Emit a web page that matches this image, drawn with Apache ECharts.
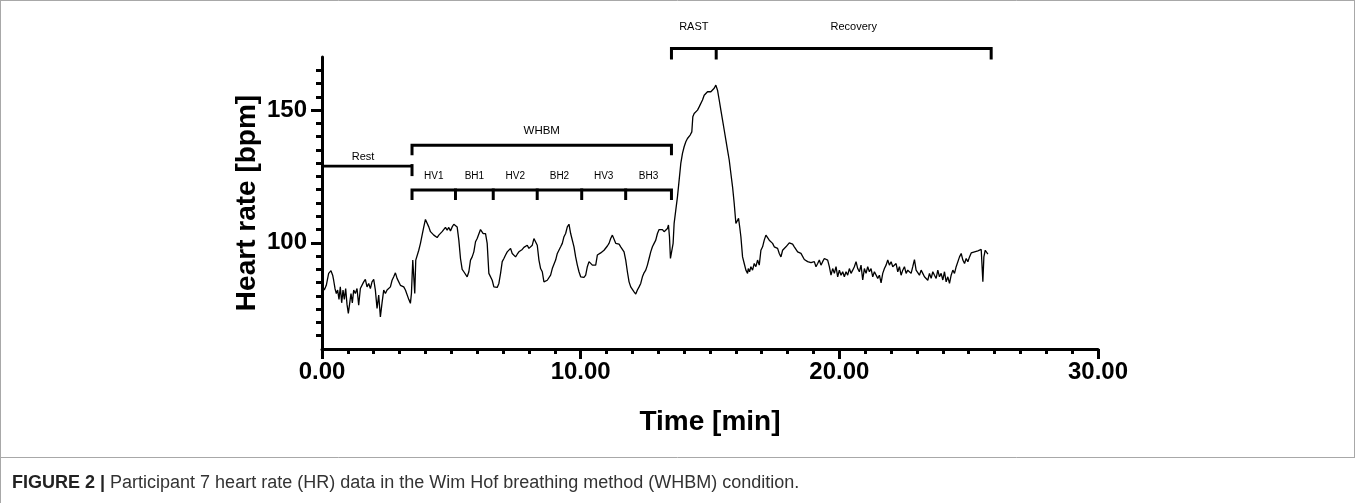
<!DOCTYPE html>
<html>
<head>
<meta charset="utf-8">
<script src="https://cdn.jsdelivr.net/npm/echarts@6/dist/echarts.min.js"></script>
<style>
html,body{margin:0;padding:0;background:#fff;}
#chart{width:1355px;height:503px;}
</style>
</head>
<body>
<div id="chart"></div>
<script>
// ---- data: [time (min), heart rate (bpm)] ----
const restData = [[0.037,83.4],[0.089,82.2],[0.166,84.0],[0.257,88.5],[0.347,89.5],[0.412,87.8],[0.450,85.9],[0.502,82.8],[0.554,80.9],[0.605,82.2],[0.657,78.7],[0.708,83.4],[0.760,77.4],[0.812,82.2],[0.863,78.7],[0.915,82.8],[0.967,76.8],[1.018,73.4],[1.070,77.2],[1.121,80.9],[1.173,77.4],[1.225,82.2],[1.289,80.9],[1.354,82.8],[1.418,76.5],[1.483,82.8],[1.547,83.4],[1.612,85.3],[1.676,86.2],[1.741,83.4],[1.805,84.7],[1.870,82.8],[1.934,85.3],[1.999,86.2],[2.063,82.2],[2.128,75.3],[2.192,80.3],[2.257,72.1],[2.321,77.4],[2.386,82.2],[2.451,80.9],[2.515,82.2],[2.580,82.8],[2.644,83.4],[2.709,85.9],[2.773,87.2],[2.838,88.7],[2.902,86.6],[2.967,87.0],[3.031,84.0],[3.096,84.7],[3.160,83.4],[3.225,82.2],[3.289,82.8],[3.354,78.7],[3.418,77.2],[3.457,80.9]];
const whbmData = [[3.509,93.5],[3.548,94.1],[3.586,80.9],[3.625,93.5],[3.677,94.1],[3.741,97.2],[3.806,99.8],[3.870,102.9],[3.935,106.0],[3.999,108.8],[4.064,109.2],[4.128,106.0],[4.193,104.2],[4.257,104.2],[4.322,102.9],[4.386,102.9],[4.451,102.0],[4.515,102.9],[4.580,102.9],[4.644,104.2],[4.709,103.8],[4.773,105.8],[4.838,104.8],[4.902,105.8],[4.967,104.5],[5.032,106.0],[5.096,107.0],[5.161,107.3],[5.225,106.0],[5.290,101.0],[5.354,94.1],[5.419,90.0],[5.483,89.1],[5.548,89.7],[5.612,87.2],[5.677,89.1],[5.741,93.5],[5.806,94.7],[5.870,96.6],[5.935,100.4],[5.999,101.6],[6.064,102.3],[6.128,105.0],[6.193,105.4],[6.232,103.5],[6.322,103.5],[6.386,99.8],[6.451,88.5],[6.516,87.8],[6.580,85.9],[6.645,83.4],[6.709,82.8],[6.774,83.2],[6.838,84.7],[6.903,88.5],[6.967,92.9],[7.032,94.1],[7.096,95.4],[7.161,96.6],[7.225,97.2],[7.290,97.9],[7.354,96.0],[7.419,95.4],[7.483,94.7],[7.548,95.7],[7.612,96.6],[7.677,97.2],[7.742,97.5],[7.806,98.3],[7.871,98.5],[7.935,99.1],[8.000,97.9],[8.064,98.5],[8.129,99.1],[8.193,101.6],[8.258,102.3],[8.322,99.1],[8.387,93.5],[8.451,90.3],[8.516,89.1],[8.580,85.3],[8.645,85.3],[8.709,85.9],[8.774,86.2],[8.838,87.8],[8.903,90.3],[8.968,91.0],[9.032,93.5],[9.097,96.0],[9.161,96.6],[9.226,98.5],[9.290,99.8],[9.355,102.3],[9.419,103.5],[9.484,106.0],[9.548,107.0],[9.613,103.5],[9.677,102.9],[9.742,98.5],[9.806,94.7],[9.871,91.6],[9.935,89.1],[10.000,87.2],[10.065,86.6],[10.129,87.0],[10.194,87.8],[10.258,91.0],[10.323,92.9],[10.387,93.2],[10.452,91.6],[10.516,91.0],[10.581,91.6],[10.645,95.4],[10.710,96.0],[10.774,96.2],[10.839,96.6],[10.903,97.2],[10.968,97.9],[11.032,98.8],[11.097,99.8],[11.161,101.6],[11.226,102.9],[11.290,102.3],[11.355,99.8],[11.419,99.1],[11.484,99.5],[11.548,98.5],[11.613,97.9],[11.677,96.6],[11.742,93.5],[11.806,89.1],[11.871,85.3],[11.935,83.4],[12.000,82.8],[12.064,81.5],[12.129,80.7],[12.193,82.2],[12.258,83.4],[12.322,84.7],[12.387,87.2],[12.451,88.7],[12.516,89.7],[12.580,91.6],[12.645,94.1],[12.709,96.6],[12.774,98.5],[12.839,99.8],[12.903,101.0],[12.968,103.5],[13.032,105.0],[13.097,105.4],[13.161,105.0],[13.226,104.2],[13.290,103.8],[13.355,105.4],[13.394,106.7],[13.433,102.3],[13.471,94.1],[13.536,93.5],[13.574,99.8]];
const rastData = [[13.613,107.3],[13.677,112.3],[13.742,117.3],[13.807,123.6],[13.871,129.9],[13.936,133.7],[14.000,136.2],[14.065,138.1],[14.129,139.3],[14.233,140.6],[14.297,141.8],[14.336,147.5],[14.388,148.7],[14.452,149.4],[14.517,150.0],[14.581,151.2],[14.646,151.9],[14.710,153.8],[14.775,155.6],[14.839,156.3],[14.904,156.9],[15.033,156.9],[15.097,157.5],[15.162,158.2],[15.226,159.4]];
const recoveryData = [[15.291,157.5],[15.356,153.8],[15.420,150.0],[15.485,146.2],[15.549,142.5],[15.614,138.7],[15.678,134.9],[15.743,131.2],[15.807,126.1],[15.872,121.1],[15.936,114.8],[16.001,107.3],[16.065,107.3],[16.104,109.2],[16.156,105.4],[16.194,102.3],[16.259,94.7],[16.323,92.2],[16.388,89.7],[16.452,88.5],[16.478,90.3],[16.529,89.1],[16.581,91.0],[16.645,89.7],[16.710,92.2],[16.774,91.0],[16.839,93.5],[16.904,91.6],[16.968,97.2],[17.033,98.5],[17.097,101.0],[17.162,102.9],[17.226,102.3],[17.291,101.0],[17.355,100.4],[17.420,99.8],[17.484,98.5],[17.549,99.1],[17.613,97.9],[17.678,96.0],[17.743,94.7],[17.807,97.2],[17.872,96.6],[17.936,98.5],[18.001,99.1],[18.065,100.0],[18.130,99.8],[18.194,99.5],[18.259,98.5],[18.323,97.9],[18.388,96.6],[18.452,97.2],[18.517,96.0],[18.581,95.4],[18.646,93.7],[18.710,94.1],[18.775,92.9],[18.839,93.5],[18.904,92.5],[18.968,92.2],[19.033,92.9],[19.097,91.0],[19.162,92.2],[19.226,93.5],[19.291,91.6],[19.355,92.9],[19.420,94.1],[19.485,94.7],[19.549,93.5],[19.614,91.0],[19.678,87.8],[19.743,90.3],[19.807,88.5],[19.872,91.0],[19.936,87.2],[20.001,89.7],[20.065,87.8],[20.130,89.1],[20.194,87.2],[20.259,89.1],[20.323,87.8],[20.388,90.3],[20.452,88.5],[20.517,89.7],[20.581,91.0],[20.646,92.9],[20.710,90.3],[20.775,89.1],[20.839,91.6],[20.904,86.0],[20.968,90.3],[21.033,88.5],[21.097,91.0],[21.162,89.1],[21.226,90.3],[21.291,87.2],[21.356,89.1],[21.420,88.5],[21.485,86.6],[21.549,87.8],[21.614,84.9],[21.678,88.5],[21.743,90.3],[21.807,91.6],[21.872,93.5],[21.936,91.6],[22.001,92.9],[22.065,91.0],[22.130,90.3],[22.194,92.2],[22.259,89.1],[22.323,91.0],[22.388,87.8],[22.452,89.7],[22.517,91.0],[22.581,88.5],[22.646,89.7],[22.710,90.3],[22.775,88.5],[22.839,91.0],[22.904,93.7],[22.968,89.7],[23.033,89.1],[23.097,87.8],[23.162,89.7],[23.226,88.5],[23.291,87.2],[23.356,87.8],[23.420,85.9],[23.485,88.5],[23.549,86.6],[23.614,89.1],[23.678,87.8],[23.743,86.6],[23.807,89.7],[23.872,87.2],[23.936,88.5],[24.001,86.0],[24.065,89.1],[24.130,85.3],[24.194,87.2],[24.259,84.7],[24.323,87.8],[24.388,89.7],[24.452,88.5],[24.517,91.0],[24.582,91.6],[24.646,94.7],[24.711,96.0],[24.775,93.5],[24.840,92.2],[24.904,94.1],[24.969,92.9],[25.033,94.7],[25.098,96.2],[25.162,96.0],[25.227,96.6],[25.291,96.2],[25.356,97.0],[25.420,96.6],[25.485,97.5],[25.511,97.9],[25.549,85.3],[25.588,94.7],[25.640,97.2],[25.691,97.5],[25.743,95.7]];

// ---- phase annotations (time in min) ----
const restSpan = [0, 3.48];
const whbmSpan = [3.48, 13.51];
const whbmPhaseBounds = [3.48, 5.16, 6.62, 8.32, 10.04, 11.74, 13.51];
const whbmPhaseLabels = ['HV1', 'BH1', 'HV2', 'BH2', 'HV3', 'BH3'];
const exerciseBounds = [13.51, 15.24, 25.87];
const exerciseLabels = ['RAST', 'Recovery'];

// ---- axis ticks ----
const xTickLabels = [0, 10, 20, 30];
const yMajorTicks = [100, 150];
const yMinorTicks = [65,70,75,80,85,90,95,105,110,115,120,125,130,135,140,145,155,160,165];

const FONT = '"Liberation Sans", Arial, Helvetica, sans-serif';
const hrSeries = restData.concat(whbmData, rastData, recoveryData);

function renderBrackets(params, api) {
  const P = (t, v) => api.coord([t, v]);
  const kids = [];
  const stroke = {stroke: '#000', lineWidth: 3, fill: null, lineJoin: 'miter', lineCap: 'butt'};
  const poly = (pts, w) => kids.push({type: 'polyline', shape: {points: pts}, style: Object.assign({}, stroke, {lineWidth: w || 3})});
  const txt = (x, y, s, size) => kids.push({type: 'text', style: {x: x, y: y, text: s, font: size + 'px ' + FONT, fill: '#000', align: 'center', verticalAlign: 'middle'}});

  // RAST / Recovery bracket
  const yE = P(0, 173.2)[1];
  const xs = exerciseBounds.map(t => P(t, 0)[0]);
  poly([[xs[0], yE + 11], [xs[0], yE], [xs[xs.length - 1], yE], [xs[xs.length - 1], yE + 11]]);
  for (let i = 1; i < xs.length - 1; i++) poly([[xs[i], yE - 1.5], [xs[i], yE + 11]]);
  const yEL = P(0, 181.3)[1];
  exerciseLabels.forEach((s, i) => txt((xs[i] + xs[i + 1]) / 2, yEL, s, 11));

  // WHBM bracket
  const yW = P(0, 136.8)[1];
  const xw0 = P(whbmSpan[0], 0)[0], xw1 = P(whbmSpan[1], 0)[0];
  poly([[xw0, yW + 10], [xw0, yW], [xw1, yW], [xw1, yW + 10]]);
  txt((xw0 + xw1) / 2, P(0, 142.1)[1], 'WHBM', 11.5);

  // Rest line
  const yR = P(0, 128.9)[1];
  const xr0 = P(restSpan[0], 0)[0], xr1 = P(restSpan[1], 0)[0];
  poly([[xr0, yR], [xr1, yR]], 2.6);
  poly([[xr1, yR - 2], [xr1, yR + 10]], 3);
  txt((xr0 + xr1) / 2 - 4, P(0, 132.3)[1], 'Rest', 11);

  // WHBM sub-phase bracket
  const yS = P(0, 119.9)[1];
  const xb = whbmPhaseBounds.map(t => P(t, 0)[0]);
  poly([[xb[0], yS + 10], [xb[0], yS], [xb[xb.length - 1], yS], [xb[xb.length - 1], yS + 10]]);
  for (let i = 1; i < xb.length - 1; i++) poly([[xb[i], yS - 1.5], [xb[i], yS + 10]]);
  const ySL = P(0, 125.1)[1];
  whbmPhaseLabels.forEach((s, i) => txt((xb[i] + xb[i + 1]) / 2, ySL, s, 10));

  return {type: 'group', children: kids};
}

const chart = echarts.init(document.getElementById('chart'), null, {renderer: 'canvas'});
chart.setOption({
  animation: false,
  backgroundColor: '#fff',
  grid: {left: 322, top: 57, width: 776, height: 292, containLabel: false},
  xAxis: {
    type: 'value', min: 0, max: 30, interval: 10,
    name: 'Time [min]', nameLocation: 'middle', nameGap: 59,
    nameTextStyle: {fontFamily: FONT, fontWeight: 'bold', fontSize: 28, color: '#000'},
    axisLine: {onZero: false, lineStyle: {color: '#000', width: 3}},
    axisTick: {length: 10, lineStyle: {color: '#000', width: 3}},
    minorTick: {show: true, splitNumber: 10, length: 5, lineStyle: {color: '#000', width: 3}},
    splitLine: {show: false},
    axisLabel: {
      customValues: xTickLabels,
      margin: 11, fontFamily: FONT, fontWeight: 'bold', fontSize: 24, color: '#000',
      formatter: v => v.toFixed(2)
    }
  },
  yAxis: [{
    type: 'value', min: 60, max: 170,
    name: 'Heart rate [bpm]', nameLocation: 'middle', nameGap: 61, nameMoveOverlap: false,
    nameTextStyle: {fontFamily: FONT, fontWeight: 'bold', fontSize: 28, color: '#000'},
    axisLine: {show: true, onZero: false, lineStyle: {color: '#000', width: 3}},
    axisTick: {show: true, customValues: yMajorTicks, length: 11, lineStyle: {color: '#000', width: 3}},
    axisLabel: {customValues: yMajorTicks, margin: 15, fontFamily: FONT, fontWeight: 'bold', fontSize: 24, color: '#000'},
    splitLine: {show: false}
  }, {
    type: 'value', min: 60, max: 170, position: 'left', offset: 0,
    axisLine: {show: false},
    axisTick: {show: true, customValues: yMinorTicks, length: 6, lineStyle: {color: '#000', width: 3}},
    axisLabel: {show: false},
    splitLine: {show: false}
  }],
  series: [{
    type: 'line', data: hrSeries, showSymbol: false, symbol: 'none',
    lineStyle: {color: '#000', width: 1.3}, z: 3
  }, {
    type: 'custom', data: [[0, 100]], renderItem: renderBrackets, clip: false, silent: true, z: 4
  }],
  graphic: [
    {type: 'line', shape: {x1: 0.5, y1: 0, x2: 0.5, y2: 503}, style: {stroke: '#a8a8a8', lineWidth: 1}},
    {type: 'line', shape: {x1: 0, y1: 0.5, x2: 1355, y2: 0.5}, style: {stroke: '#a8a8a8', lineWidth: 1}},
    {type: 'line', shape: {x1: 1354.5, y1: 0, x2: 1354.5, y2: 458}, style: {stroke: '#a8a8a8', lineWidth: 1}},
    {type: 'line', shape: {x1: 0, y1: 457.5, x2: 1355, y2: 457.5}, style: {stroke: '#a8a8a8', lineWidth: 1}},
    {type: 'text', left: 12, top: 474,
      style: {
        text: '{b|FIGURE 2 |} Participant 7 heart rate (HR) data in the Wim Hof breathing method (WHBM) condition.',
        font: '18px ' + FONT, fill: '#333',
        rich: {b: {fontWeight: 'bold', fontSize: 18, fontFamily: FONT, fill: '#222'}}
      }}
  ]
});
</script>
</body>
</html>
